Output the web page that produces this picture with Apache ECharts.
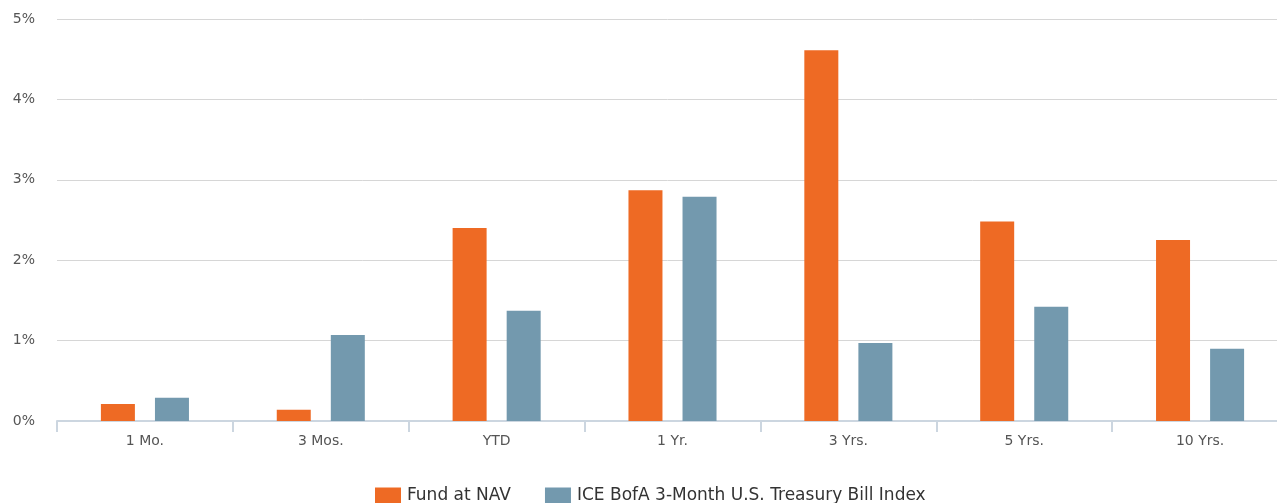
<!DOCTYPE html>
<html><head><meta charset="utf-8">
<script src="https://cdn.jsdelivr.net/npm/echarts@6/dist/echarts.min.js"></script>
<style>html,body{margin:0;padding:0;background:#fff}#c{width:1277px;height:503px}</style>
</head><body><div id="c"></div>
<script>
const categories = ['1 Mo.', '3 Mos.', 'YTD', '1 Yr.', '3 Yrs.', '5 Yrs.', '10 Yrs.'];
const fundValues = [0.21, 0.14, 2.40, 2.87, 4.61, 2.48, 2.25];
const indexValues = [0.29, 1.07, 1.37, 2.79, 0.97, 1.42, 0.90];
const seriesNames = ['Fund at NAV', 'ICE BofA 3-Month U.S. Treasury Bill Index'];
const colors = ['#ee6a24', '#7399ae'];

const chart = echarts.init(document.getElementById('c'), null, {renderer: 'canvas'});
const font = '"DejaVu Sans", sans-serif';
chart.setOption({
  animation: false,
  color: colors,
  grid: {left: 57, right: -11, top: 19, bottom: 82, containLabel: false, outerBoundsMode: 'none'},
  legend: {
    bottom: -6, left: 370, itemWidth: 26, itemHeight: 16, itemGap: 34,
    icon: 'rect',
    textStyle: {color: '#333', fontSize: 17, fontFamily: font, padding: [2, 0, 0, 1]},
    data: seriesNames
  },
  xAxis: {
    type: 'category', data: categories,
    axisLine: {lineStyle: {color: '#ccd6e0', width: 2}},
    axisTick: {show: true, length: 11, lineStyle: {color: '#ccd6e0', width: 2}},
    axisLabel: {color: '#555', fontSize: 14, fontFamily: font, margin: 13}
  },
  yAxis: {
    type: 'value', min: 0, max: 5, interval: 1,
    axisLabel: {formatter: '{value}%', color: '#555', fontSize: 14, fontFamily: font, margin: 22, align: 'right'},
    splitLine: {lineStyle: {color: '#d6d6d6', width: 1}},
    axisLine: {show: false}, axisTick: {show: false}
  },
  series: [
    {name: seriesNames[0], type: 'bar', data: fundValues, barWidth: 34, barGap: '59%'},
    {name: seriesNames[1], type: 'bar', data: indexValues, barWidth: 34, barGap: '59%'}
  ]
});
</script></body></html>
